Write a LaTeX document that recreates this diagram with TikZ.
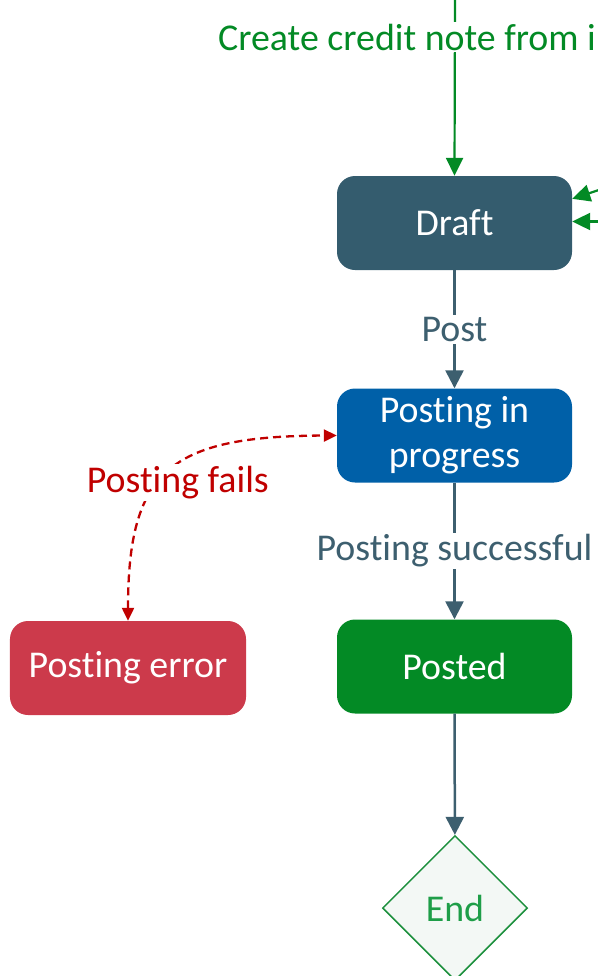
\documentclass[tikz,border=0pt]{standalone}
\usepackage{fontspec}
\setmainfont{Carlito}[Ligatures=NoCommon]
\usetikzlibrary{arrows.meta,shapes.geometric}
\definecolor{draftc}{HTML}{345C6E}
\definecolor{progc}{HTML}{0060A8}
\definecolor{postedc}{HTML}{038A25}
\definecolor{errc}{HTML}{CC3A4B}
\definecolor{greenl}{HTML}{038A25}
\definecolor{redl}{HTML}{C00000}
\definecolor{slatel}{HTML}{3D5F6F}
\definecolor{endfill}{HTML}{F3F8F5}
\definecolor{endline}{HTML}{1B8F3C}
\definecolor{endtext}{HTML}{1E9E48}
\begin{document}
\begin{tikzpicture}[x=1bp,y=-1bp,
  bigfont/.style={font=\fontsize{38}{45}\selectfont},
  state/.style={bigfont, rounded corners=18bp, minimum width=235bp, minimum height=94bp,
    text=white, align=center, inner sep=0pt},
  lbl/.style={bigfont, fill=white, inner sep=2bp},
  gline/.style={draw=greenl, line width=2.2bp, -{Triangle[length=18bp,width=17bp]}},
  sline/.style={draw=slatel, line width=2.5bp, -{Triangle[length=18bp,width=18bp]}},
  rline/.style={draw=redl, line width=2.3bp, dash pattern=on 8bp off 5bp,
    {Triangle[length=13bp,width=12bp]}-{Triangle[length=13bp,width=12bp]}}
]
\useasboundingbox (0,0) rectangle (598,976);

\node[state, fill=draftc] (draft) at (454.5,223) {Draft};
\node[state, fill=progc] (prog) at (454.5,435.5) {Posting in\\progress};
\node[state, fill=postedc] (posted) at (454.5,666.5) {Posted};
\node[state, fill=errc, minimum width=236bp] (err) at (128,668) {Posting error};
\node[diamond, aspect=1, minimum width=145bp, minimum height=145bp, inner sep=0pt,
  draw=endline, fill=endfill, line width=1.5bp, text=endtext, bigfont] (end) at (455,908) {End};

% incoming from top
\coordinate (top) at (455,-2);
\draw[gline] (top) -- (draft.north);
\node[lbl, text=greenl, anchor=west] (clbl) at (216,37) {Create credit note from in};

% incoming from right
\coordinate (r1) at (602,189);
\coordinate (r2) at (602,221.5);
\draw[gline] (r1) -- ([yshift=-23bp]draft.north east);
\draw[gline] (r2) -- ([yshift=1.5bp]draft.east);

\draw[sline] (draft) -- node[lbl, text=slatel] {Post} (prog);
\draw[sline] (prog) -- node[lbl, text=slatel] {Posting successful} (posted);
\draw[sline] (posted) -- (end);

\draw[rline] (err.north) .. controls (128,470) and (170,436) .. node[pos=0.5, lbl, text=redl, xshift=8bp, yshift=-11bp] {Posting fails} (prog.west);
\end{tikzpicture}
\end{document}
